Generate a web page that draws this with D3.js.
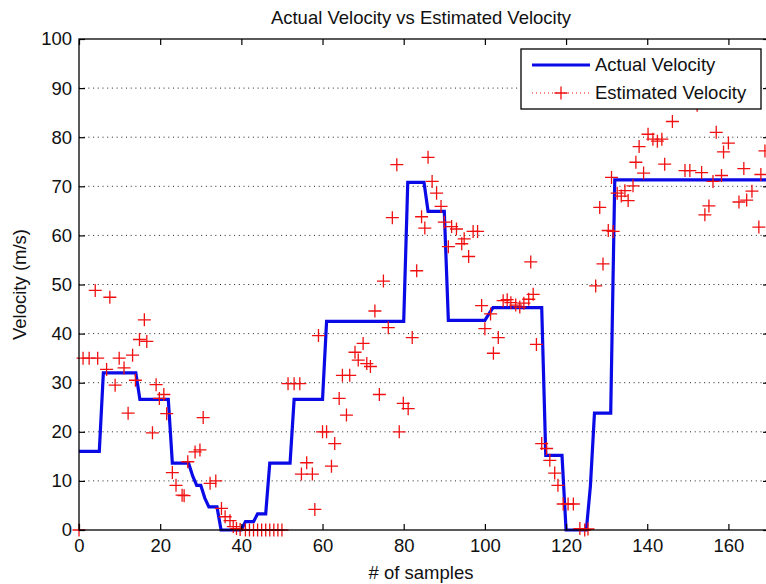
<!DOCTYPE html>
<html>
<head>
<meta charset="utf-8">
<script src="https://cdn.jsdelivr.net/npm/d3@7"></script>
<style>
  body { margin: 0; background: #fff; }
  svg { display: block; font-family: "Liberation Sans", Arial, sans-serif; }
</style>
</head>
<body>
<script>
// Actual velocity, one value per sample (x = 0..170)
const actualVelocity = [
  16, 16, 16, 16, 16, 16, 32, 32, 32, 32,
  32, 32, 32, 32, 32, 26.6, 26.6, 26.6, 26.6, 26.6,
  26.6, 26.6, 26.6, 13.6, 13.6, 13.6, 13.6, 13.6, 11, 9.1,
  9.1, 6.5, 4.7, 4.7, 4.7, 0, 0, 0, 0, 0,
  0, 1.7, 1.7, 1.7, 3.3, 3.3, 3.3, 13.6, 13.6, 13.6,
  13.6, 13.6, 13.6, 26.6, 26.6, 26.6, 26.6, 26.6, 26.6, 26.6,
  26.6, 42.5, 42.5, 42.5, 42.5, 42.5, 42.5, 42.5, 42.5, 42.5,
  42.5, 42.5, 42.5, 42.5, 42.5, 42.5, 42.5, 42.5, 42.5, 42.5,
  42.5, 70.8, 70.8, 70.8, 70.8, 70.8, 64.9, 64.9, 64.9, 64.9,
  64.9, 42.7, 42.7, 42.7, 42.7, 42.7, 42.7, 42.7, 42.7, 42.7,
  42.7, 44, 45.3, 45.3, 45.3, 45.3, 45.3, 45.3, 45.3, 45.3,
  45.3, 45.3, 45.3, 45.3, 45.3, 15.2, 15.2, 15.2, 15.2, 15.2,
  0, 0, 0, 0, 0, 0, 9, 23.8, 23.8, 23.8,
  23.8, 23.8, 71.3, 71.3, 71.3, 71.3, 71.3, 71.3, 71.3, 71.3,
  71.3, 71.3, 71.3, 71.3, 71.3, 71.3, 71.3, 71.3, 71.3, 71.3,
  71.3, 71.3, 71.3, 71.3, 71.3, 71.3, 71.3, 71.3, 71.3, 71.3,
  71.3, 71.3, 71.3, 71.3, 71.3, 71.3, 71.3, 71.3, 71.3, 71.3,
  71.3
];

// Estimated velocity markers: sample position and value
const estSamples = [
  0, 1, 2.5, 4.6, 4, 7.6, 6.8, 8.9, 9.9, 11.1,
  12.1, 13.2, 13.9, 14.9, 16.1, 16.7, 18.1, 19, 19.8, 20.9,
  21.6, 23, 23.9, 25.4, 25.9, 26.8, 28.6, 29.8, 30.6, 32.3,
  33.7, 35.1, 36, 37.2, 38, 38.8, 39.7, 41, 42, 43,
  44, 45, 46, 47, 48, 49, 50, 51.5, 53, 54.4,
  54.8, 56.1, 57.5, 58.1, 59, 60, 61, 62.2, 63, 64.1,
  64.9, 65.9, 66.7, 68, 68.8, 70, 70.9, 71.8, 72.9, 74,
  75, 76.2, 77.2, 78.3, 78.9, 79.9, 81.1, 82.1, 83.2, 84.4,
  85.2, 86, 87, 88.1, 89.2, 90, 91, 91.8, 93, 94.3,
  94.9, 96, 97.1, 98.2, 99.2, 100, 101.4, 102.1, 103.3, 104.5,
  105.5, 106.4, 107.6, 108.6, 109.6, 110.8, 111.9, 111.3, 112.7, 114,
  115.2, 116, 117.2, 118, 119.3, 120.5, 121.8, 123.4, 124.6, 125.4,
  127.3, 128.3, 129.1, 130.4, 131.6, 131.2, 132.6, 133.6, 134.5, 135.3,
  136.5, 137.2, 138, 139.1, 140.2, 141.4, 142.5, 143.6, 144.3, 146.2,
  149.3, 150.5, 152.3, 153.4, 154.2, 155.2, 156.2, 158.3, 157, 158.8,
  160, 162.6, 164.5, 163.8, 165.8, 167.5, 168, 169
];
const estValues = [
  0, 35, 35, 35, 48.8, 47.4, 32.7, 29.5, 35, 33,
  23.8, 35.6, 30.5, 38.8, 42.8, 38.4, 19.8, 29.6, 26.8, 27.6,
  23.7, 11.7, 9.1, 7.1, 7, 13.9, 15.9, 16.3, 22.9, 9.5,
  10, 4.4, 2.7, 1.9, 0.7, 0.3, 0.1, 0, 0, 0,
  0, 0, 0, 0, 0, 0, 0, 29.8, 29.8, 29.8,
  11.4, 13.7, 11.4, 4.2, 39.6, 20, 20, 13, 17.6, 26.8,
  31.5, 23.4, 31.5, 36.2, 34.6, 38, 33.9, 33.3, 44.6, 27.6,
  50.7, 41.2, 63.6, 74.4, 20, 25.8, 24.7, 39.2, 52.8, 63.8,
  61.5, 75.9, 71, 68.6, 65.9, 62.7, 57.7, 61.8, 61.3, 58.3,
  59.3, 55.7, 60.8, 60.8, 45.7, 41, 44, 36, 39.2, 46.7,
  46.9, 46.3, 45.8, 45.4, 46.2, 47, 48, 54.6, 37.8, 17.6,
  16.6, 14.2, 11.6, 9.1, 5.3, 5.3, 5.3, 0.3, 0, 0.2,
  49.7, 65.7, 54.2, 61, 60.8, 71.8, 68.6, 68, 69.1, 67.1,
  70.1, 74.9, 78.1, 72.7, 80.6, 79.6, 79.2, 79.6, 74.5, 83.2,
  73.2, 73.2, 86.5, 72.8, 64.2, 66, 71, 72.2, 81, 77,
  78.8, 66.8, 67.2, 73.6, 69, 61.7, 72.4, 77.2
];

const xTicks = [0, 20, 40, 60, 80, 100, 120, 140, 160];
const yTicks = [0, 10, 20, 30, 40, 50, 60, 70, 80, 90, 100];
const gridValues = [10, 20, 30, 40, 50, 60, 70, 80, 90];
const legendLabels = ['Actual Velocity', 'Estimated Velocity'];

const width = 766;
const height = 584;
const plotLeft = 79, plotRight = 769, plotTop = 39, plotBottom = 530;
const blue = '#0a0ae6';
const red = '#f01010';
const fontSize = 18.5;

const svg = d3.select('body').append('svg')
  .attr('width', width)
  .attr('height', height);

const x = d3.scaleLinear().domain([0, 170]).range([plotLeft, plotRight]);
const y = d3.scaleLinear().domain([0, 100]).range([plotBottom, plotTop]);

// MATLAB does not clip line width or markers at the axis, only points beyond the x range
svg.append('clipPath').attr('id', 'plot-clip')
  .append('rect')
  .attr('x', plotLeft - 10).attr('y', plotTop - 10)
  .attr('width', plotRight - plotLeft + 10).attr('height', plotBottom - plotTop + 20);

// Dotted horizontal grid
svg.append('g')
  .selectAll('line')
  .data(gridValues)
  .join('line')
  .attr('x1', plotLeft).attr('x2', plotRight)
  .attr('y1', d => y(d)).attr('y2', d => y(d))
  .attr('stroke', '#222')
  .attr('stroke-width', 1)
  .attr('stroke-dasharray', '1,3.7');

const plot = svg.append('g').attr('clip-path', 'url(#plot-clip)');

// Actual velocity line
const line = d3.line()
  .x((d, i) => x(i))
  .y(d => y(d));

plot.append('path')
  .datum(actualVelocity)
  .attr('d', line)
  .attr('fill', 'none')
  .attr('stroke', blue)
  .attr('stroke-width', 3.2);

// Estimated velocity markers
const plus = 'M-6.5,0H6.5M0,-6.5V6.5';
plot.append('g')
  .selectAll('path')
  .data(estSamples.map((s, i) => [s, estValues[i]]))
  .join('path')
  .attr('transform', d => `translate(${x(d[0])},${y(d[1])})`)
  .attr('d', plus)
  .attr('stroke', red)
  .attr('stroke-width', 1.3)
  .attr('fill', 'none');

// Axes
const styleAxis = g => {
  g.select('.domain').remove();
  g.selectAll('line').attr('stroke', '#000').attr('stroke-width', 1.2);
  g.selectAll('text').attr('font-size', fontSize).attr('fill', '#111')
    .attr('font-family', '"Liberation Sans", Arial, sans-serif');
};

svg.append('g')
  .attr('transform', `translate(0,${plotBottom})`)
  .call(d3.axisBottom(x).tickValues(xTicks).tickSize(-6).tickPadding(9))
  .call(styleAxis);

svg.append('g')
  .attr('transform', `translate(0,${plotTop})`)
  .call(d3.axisTop(x).tickValues(xTicks).tickSize(-6).tickFormat(''))
  .call(styleAxis);

svg.append('g')
  .attr('transform', `translate(${plotLeft},0)`)
  .call(d3.axisLeft(y).tickValues(yTicks).tickSize(-6).tickPadding(7))
  .call(styleAxis);

svg.append('g')
  .attr('transform', `translate(${plotRight},0)`)
  .call(d3.axisRight(y).tickValues(yTicks).tickSize(-6).tickFormat(''))
  .call(styleAxis);

// Box
svg.append('rect')
  .attr('x', plotLeft).attr('y', plotTop)
  .attr('width', plotRight - plotLeft).attr('height', plotBottom - plotTop)
  .attr('fill', 'none')
  .attr('stroke', '#000')
  .attr('stroke-width', 1.3);

// Title and labels
svg.append('text')
  .attr('x', 421).attr('y', 24)
  .attr('text-anchor', 'middle')
  .attr('font-size', fontSize)
  .attr('fill', '#111')
  .text('Actual Velocity vs Estimated Velocity');

svg.append('text')
  .attr('x', 421).attr('y', 579)
  .attr('text-anchor', 'middle')
  .attr('font-size', fontSize)
  .attr('fill', '#111')
  .text('# of samples');

svg.append('text')
  .attr('transform', `translate(26,${(plotTop + plotBottom) / 2}) rotate(-90)`)
  .attr('text-anchor', 'middle')
  .attr('font-size', fontSize)
  .attr('fill', '#111')
  .text('Velocity (m/s)');

// Legend
const legend = svg.append('g');
legend.append('rect')
  .attr('x', 521).attr('y', 49)
  .attr('width', 240).attr('height', 60)
  .attr('fill', '#fff')
  .attr('stroke', '#000')
  .attr('stroke-width', 1.3);

legend.append('line')
  .attr('x1', 532).attr('x2', 590)
  .attr('y1', 65).attr('y2', 65)
  .attr('stroke', blue).attr('stroke-width', 3.2);

legend.append('line')
  .attr('x1', 532).attr('x2', 590)
  .attr('y1', 93).attr('y2', 93)
  .attr('stroke', red).attr('stroke-width', 1)
  .attr('stroke-dasharray', '1,3');

legend.append('path')
  .attr('transform', 'translate(561,93)')
  .attr('d', plus)
  .attr('stroke', red)
  .attr('stroke-width', 1.3);

legend.selectAll('text.lbl')
  .data(legendLabels)
  .join('text')
  .attr('class', 'lbl')
  .attr('x', 595)
  .attr('y', (d, i) => 71 + i * 28)
  .attr('font-size', fontSize)
  .attr('fill', '#111')
  .text(d => d);
</script>
</body>
</html>
